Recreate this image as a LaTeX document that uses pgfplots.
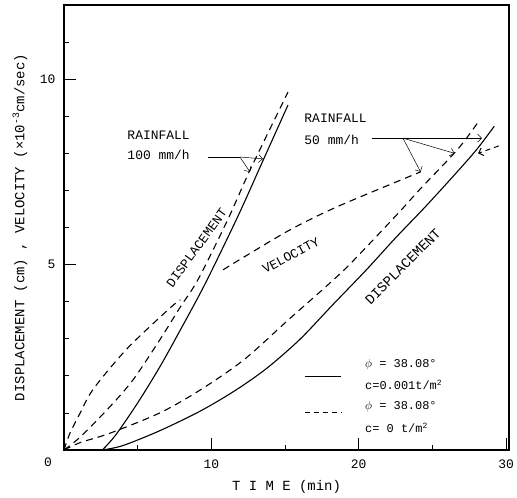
\documentclass[border=0pt]{standalone}
\usepackage{fontspec}
\setmainfont{Liberation Mono}
\usepackage{pgfplots}
\pgfplotsset{compat=1.18}
\usetikzlibrary{arrows.meta}

\begin{document}
\begin{tikzpicture}[font=\fontsize{13}{15}\selectfont]
\begin{axis}[
  scale only axis, width=445bp, height=445bp,
  xmin=0, xmax=30.2, ymin=0, ymax=12,
  xtick={10,20,30}, ytick={5,10},
  minor xtick={5,15,25}, minor ytick={1,2,3,4,6,7,8,9,11},
  tick pos=left, tick align=inside,
  major tick length=12bp, minor tick length=5bp,
  tick style={black, line width=0.8pt},
  axis line style={line width=1.2pt},
  /pgf/number format/assume math mode=true,
  xticklabel style={yshift=-6bp},
  yticklabel style={xshift=-5bp},
  xlabel={T I M E (min)},
  ylabel={DISPLACEMENT (cm) , VELOCITY (×10\textsuperscript{-3}cm/sec)},
  xlabel style={at={(axis description cs:0.5,-0.083)}, anchor=center, font=\fontsize{14}{16}\selectfont},
  ylabel style={at={(axis description cs:-0.099,0.5)}, anchor=center, font=\fontsize{14}{16}\selectfont},
  unbounded coords=jump, clip=false,
  sol/.style={black, solid, no markers, line width=1.1pt, smooth, tension=0.5},
  dsh/.style={black, no markers, line width=1.1pt, smooth, tension=0.5, dash pattern=on 7bp off 5bp},
]

% 100 mm/h, c=0.001
\addplot[sol] coordinates {(2.6,0) (3.5,0.4) (5.0,1.27) (6.5,2.24) (7.9,3.24) (9.6,4.5) (11.8,6.3) (13.5,7.8) (15.2,9.3)};
% 100 mm/h, c=0
\addplot[dsh] coordinates {(0,0) (1.1,0.35) (3.1,1.16) (4.7,1.9) (6.5,2.97) (7.9,3.86) (9.1,4.6) (11.1,6.2) (12.65,7.57) (15.2,9.65)};
% 50 mm/h, c=0.001
\addplot[sol] coordinates {(2.6,0) (4,0.12) (6.5,0.52) (9.25,1.05) (11.6,1.6) (13.75,2.2) (16.0,2.98) (18.2,3.9) (20.5,4.85) (22.5,5.72) (24.5,6.55) (26.5,7.42) (28.0,8.1) (29.2,8.73)};
% 50 mm/h, c=0
\addplot[dsh] coordinates {(0,0) (1.1,0.2) (3.1,0.45) (6.5,1.0) (9.25,1.62) (12.2,2.43) (15.2,3.5) (17.9,4.45) (19.5,5.05) (22.6,6.35) (24.2,7.05) (26.7,8.1) (28.1,8.84)};
% velocity
\addplot[dsh] coordinates {(0,0) (0.4,0.45) (1.1,1.0) (2.0,1.65) (4.3,2.74) (7.2,3.83) (7.9,4.05) (9.3,nan) (10.8,4.86) (12.2,5.2) (15.4,5.95) (18.6,6.57) (24.2,7.5)};

% labels
\node at (axis cs:0,0) [xshift=-16bp, yshift=-12bp] {0};
\node[rotate=54] at (axis cs:9.0,5.45) {DISPLACEMENT};
\node[rotate=28] at (axis cs:15.4,5.25) {VELOCITY};
\node[rotate=45, font=\fontsize{14}{16}\selectfont] at (axis cs:23.0,4.95) {DISPLACEMENT};

\node[anchor=west] at (axis cs:4.07,8.5) {RAINFALL};
\node[anchor=west] at (axis cs:4.07,7.96) {100 mm/h};
\node[anchor=west] at (axis cs:16.08,8.95) {RAINFALL};
\node[anchor=west] at (axis cs:16.08,8.36) {50 mm/h};

\begin{scope}[line width=0.5pt, -{Straight Barb[length=4pt]}]
\draw[-] (axis cs:9.77,7.9) -- (axis cs:11.94,7.9);
\draw (axis cs:11.94,7.9) -- (axis cs:12.62,7.5);
\draw (axis cs:11.94,7.9) -- (axis cs:13.5,7.85);
\draw (axis cs:20.9,8.41) -- (axis cs:28.36,8.41);
\draw (axis cs:23.0,8.41) -- (axis cs:24.2,7.5);
\draw (axis cs:23.0,8.41) -- (axis cs:26.5,8.0);
\draw[line width=1pt, dash pattern=on 5bp off 4bp] (axis cs:29.5,8.2) -- (axis cs:28.1,8.0);
\end{scope}

% legend
\draw[line width=1.1pt] (axis cs:16.35,1.97) -- (axis cs:18.8,1.97);
\draw[line width=1.1pt, dash pattern=on 5bp off 4bp] (axis cs:16.35,1.0) -- (axis cs:18.8,1.0);
\begin{scope}[font=\fontsize{12}{14}\selectfont]
\node[anchor=west] at (axis cs:20.2,2.3) {$\phi$ = 38.08°};
\node[anchor=west] at (axis cs:20.2,1.76) {c=0.001t/m\textsuperscript{2}};
\node[anchor=west] at (axis cs:20.2,1.16) {$\phi$ = 38.08°};
\node[anchor=west] at (axis cs:20.2,0.6) {c= 0  t/m\textsuperscript{2}};
\end{scope}
\end{axis}
\pgfresetboundingbox
\path[use as bounding box] (-64bp,-48bp) rectangle (453bp,450bp);
\end{tikzpicture}
\end{document}
